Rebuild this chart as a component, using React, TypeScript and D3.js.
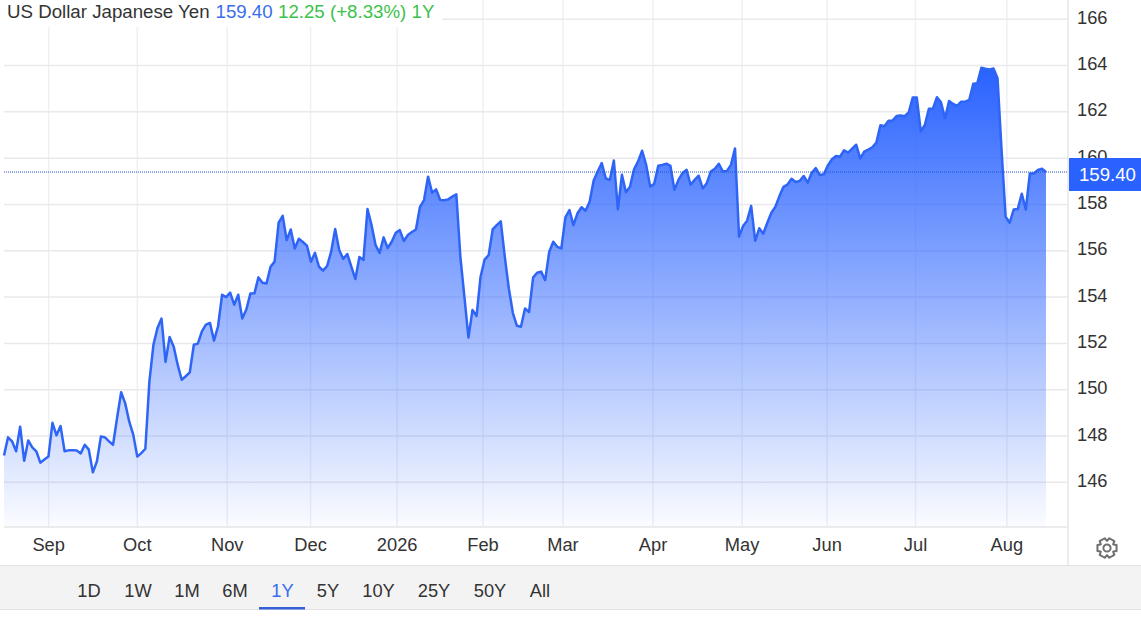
import React from 'react'
import * as d3 from 'd3'

const values = [
  147.16, 147.94, 147.77, 147.34, 148.40, 146.93, 147.81, 147.51, 147.34, 146.85, 146.98, 147.11,
  148.57, 148.03, 148.43, 147.34, 147.38, 147.39, 147.37, 147.25, 147.62, 147.41, 146.43, 146.90,
  147.98, 147.94, 147.77, 147.62, 148.78, 149.89, 149.42, 148.63, 148.06, 147.11, 147.26, 147.45,
  150.36, 151.94, 152.66, 153.07, 151.20, 152.28, 151.87, 151.08, 150.43, 150.58, 150.75, 151.94,
  151.99, 152.52, 152.81, 152.88, 152.12, 152.74, 154.10, 154.00, 154.19, 153.67, 154.10, 153.07,
  153.46, 154.15, 154.16,
  154.85, 154.62, 154.59, 155.31, 155.53, 157.21, 157.51, 156.46, 156.92, 156.10, 156.52, 156.38,
  156.22, 155.53, 155.91, 155.31, 155.14, 155.34, 155.96, 156.94, 156.03, 155.65, 155.86, 155.31,
  154.78, 155.73, 155.60, 157.80, 157.11, 156.25, 155.91, 156.58, 156.12, 156.39, 156.78, 156.89,
  156.42, 156.68, 156.81, 156.92, 157.90, 158.19, 159.20, 158.51, 158.65, 158.19, 158.18, 158.22,
  158.34, 158.44, 155.74, 154.01, 152.25, 153.44, 153.18, 154.88,
  155.62, 155.81, 156.92, 157.11, 157.27, 155.74, 154.37, 153.31, 152.76, 152.72, 153.51, 153.35,
  154.84, 155.05, 155.10, 154.73, 155.96, 156.39, 156.17, 156.10, 157.44, 157.76, 157.11, 157.62,
  157.88, 157.73, 158.12, 159.03, 159.42, 159.79, 159.13, 159.06, 159.90, 157.79, 159.28, 158.53,
  158.77, 159.52, 159.86, 160.32, 159.71, 158.77, 158.89, 159.67, 159.71, 159.76, 159.67, 158.63,
  159.06, 159.35, 159.50, 158.85, 159.06, 159.24, 158.69, 158.92, 159.42, 159.54, 159.76, 159.42,
  159.45, 159.71, 160.42, 156.61, 157.07, 157.30, 157.94, 156.43, 156.97,
  156.74, 157.21, 157.64, 157.90, 158.36, 158.76, 158.86, 159.11, 158.97, 159.01, 159.23, 158.94,
  159.37, 159.57, 159.27, 159.30, 159.69, 159.95, 160.09, 160.06, 160.34, 160.24, 160.41, 160.58,
  159.99, 160.28, 160.37, 160.47, 160.67, 161.42, 161.38, 161.62, 161.62, 161.82, 161.84, 161.81,
  161.97, 162.62, 162.62, 161.15, 161.43, 162.13, 162.14, 162.63, 162.41, 161.72, 162.47, 162.34,
  162.26, 162.44, 162.44, 162.52, 163.21, 163.24, 163.90, 163.86, 163.83, 163.87, 163.45, 160.35,
  157.47, 157.21, 157.78, 157.80, 158.46, 157.78, 159.34, 159.34, 159.49, 159.54, 159.40,
]

const monthLabels = ['Sep', 'Oct', 'Nov', 'Dec', '2026', 'Feb', 'Mar', 'Apr', 'May', 'Jun', 'Jul', 'Aug']
// session index where each month starts (fractional because holidays are skipped)
const monthStarts = [11.06, 33, 55.27, 75.9, 97.35, 118.6, 138.4, 160.7, 182.75, 203.8, 225.7, 248.3]
const priceTicks = [146, 148, 150, 152, 154, 156, 158, 160, 162, 164, 166]
const lastPrice = 159.4
const rangeLabels = ['1D', '1W', '1M', '6M', '1Y', '5Y', '10Y', '25Y', '50Y', 'All']
const rangeCenters = [89, 138, 187, 235, 282.5, 328, 378.5, 434, 490, 540]

const width = 1141
const height = 617
const plotLeft = 4
const plotRight = 1068
const plotBottom = 527
const blue = '#2962ff'
const font = '"Liberation Sans", Arial, sans-serif'

// six toothed cog for the settings button
function gearPath(cx: number, cy: number) {
  const pts: [number, number][] = []
  for (let i = 0; i < 6; i++) {
    const a = (i * Math.PI) / 3 + Math.PI / 6
    const s = 0.3
    pts.push([a - 0.5, 7.2], [a - s, 10], [a + s, 10], [a + 0.5, 7.2])
  }
  const line = d3.lineRadial().curve(d3.curveLinearClosed)
  return { d: line(pts) || '', transform: `translate(${cx},${cy})` }
}

export default function App() {
  const x = d3.scaleLinear().domain([0, values.length - 1]).range([plotLeft, 1046])
  const y = d3.scaleLinear().domain([144.07, 166.83]).range([plotBottom, 0])

  const line = d3.line<number>().x((d, i) => x(i)).y(d => y(d))
  const area = d3.area<number>().x((d, i) => x(i)).y0(plotBottom).y1(d => y(d))
  const gear = gearPath(1107, 548)

  return (
    <svg width={width} height={height} viewBox={`0 0 ${width} ${height}`}
      style={{ position: 'absolute', left: 0, top: 0, background: '#fff', fontFamily: font }}>
      <defs>
        <linearGradient id="fade" gradientUnits="userSpaceOnUse" x1="0" x2="0" y1={y(d3.max(values)!)} y2={plotBottom}>
          <stop offset="0" stopColor={blue} stopOpacity={1} />
          <stop offset="1" stopColor={blue} stopOpacity={0.02} />
        </linearGradient>
      </defs>

      {monthStarts.map((m, i) => (
        <line key={i} x1={x(m)} x2={x(m)} y1={0} y2={plotBottom} stroke="#eef0f4" strokeWidth={1.5} />
      ))}
      {priceTicks.map(t => (
        <line key={t} x1={plotLeft} x2={plotRight} y1={y(t)} y2={y(t)} stroke="#e9e9ec" strokeWidth={1.5} />
      ))}

      <path d={area(values) || ''} fill="url(#fade)" />
      <path d={line(values) || ''} fill="none" stroke="#2f65f6" strokeWidth={2.5} strokeLinejoin="round" />

      <line x1={plotLeft} x2={plotRight} y1={plotBottom} y2={plotBottom} stroke="#e6e6e6" strokeWidth={1.5} />
      <line x1={plotRight} x2={plotRight} y1={0} y2={565} stroke="#e6e6e6" strokeWidth={1.5} />
      <line x1={plotLeft} x2={plotRight} y1={y(lastPrice)} y2={y(lastPrice)} stroke="#2556c8" strokeWidth={1} strokeDasharray="1 1" />

      <rect x={0} y={0} width={442} height={27} fill="#fff" />
      <text y={18} fontSize={18.7}>
        <tspan x={7} fill="#333">US Dollar Japanese Yen</tspan>
        <tspan x={215.5} fill="#3a6cf0">159.40</tspan>
        <tspan x={278} fill="#3cc24a">12.25 (+8.33%) 1Y</tspan>
      </text>

      {priceTicks.map(t => (
        <text key={t} x={1077} y={y(t) + 4.5} fontSize={18.3} fill="#333">{t}</text>
      ))}
      <rect x={1069} y={158} width={72} height={33} fill={blue} />
      <text x={1079} y={181} fontSize={18.6} fill="#fff">{lastPrice.toFixed(2)}</text>

      {monthLabels.map((m, i) => (
        <text key={m} x={x(monthStarts[i])} y={551} fontSize={18.3} fill="#333" textAnchor="middle">{m}</text>
      ))}

      <path d={gear.d} transform={gear.transform} fill="none" stroke="#6f6f6f" strokeWidth={2} strokeLinejoin="round" />
      <circle cx={1107} cy={548} r={3.6} fill="none" stroke="#6f6f6f" strokeWidth={2} />

      <rect x={0} y={565} width={width} height={44} fill="#f3f3f3" />
      <line x1={0} x2={width} y1={565.5} y2={565.5} stroke="#e2e2e2" />
      <line x1={0} x2={width} y1={609.5} y2={609.5} stroke="#e2e2e2" />
      {rangeLabels.map((r, i) => (
        <text key={r} x={rangeCenters[i]} y={597} fontSize={18.3} textAnchor="middle" fill={r === '1Y' ? '#3a6cf0' : '#333'}>{r}</text>
      ))}
      <rect x={259} y={607} width={46} height={2.5} fill="#3560d8" />
    </svg>
  )
}
